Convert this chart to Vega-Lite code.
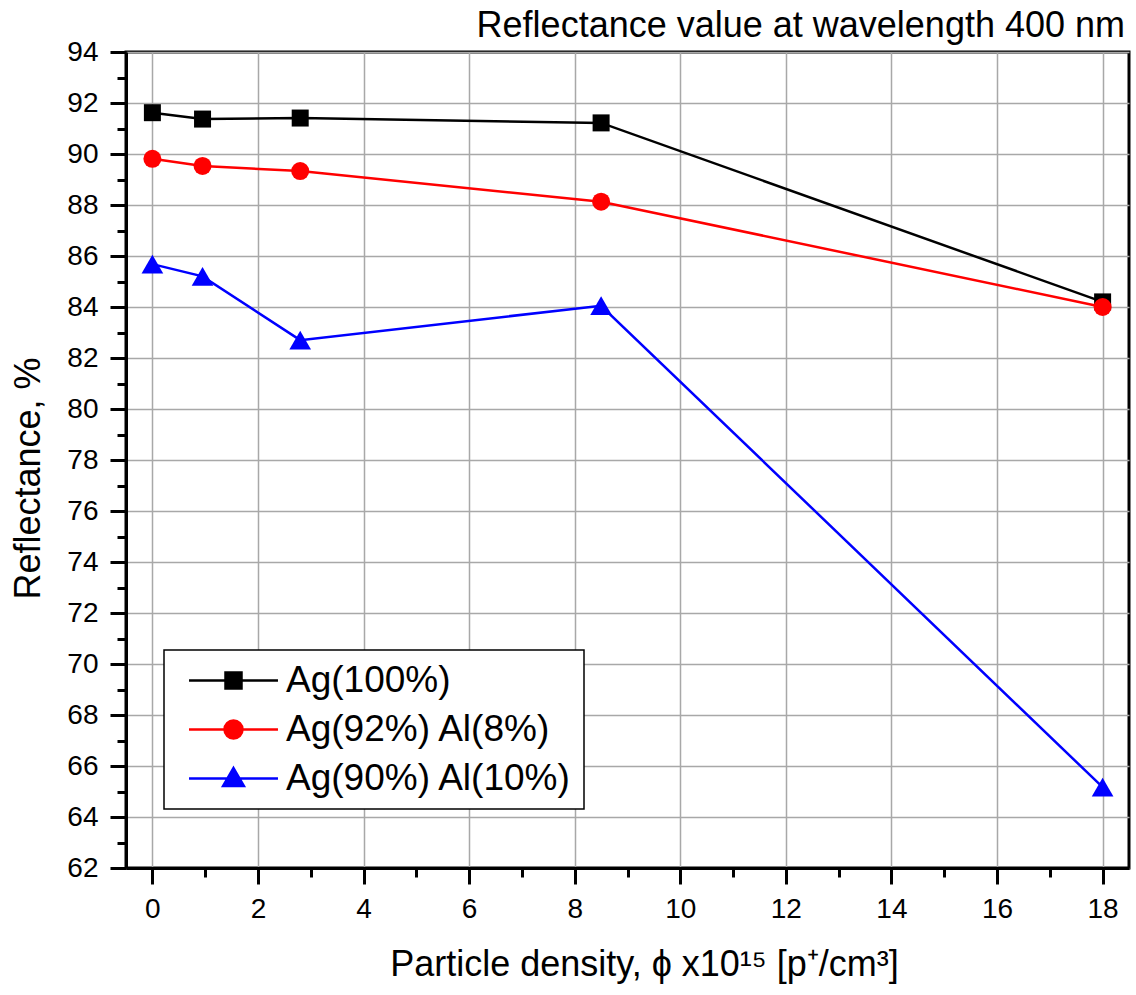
{
  "$schema": "https://vega.github.io/schema/vega-lite/v6.json",
  "width": 1003,
  "height": 816,
  "autosize": "none",
  "padding": {"left": 126, "top": 52, "right": 7, "bottom": 127},
  "background": "white",
  "title": {
    "text": "Reflectance value at wavelength 400 nm",
    "anchor": "end",
    "frame": "group",
    "fontSize": 36,
    "font": "Liberation Sans",
    "fontWeight": "normal",
    "color": "black",
    "offset": 9,
    "dy": 16,
    "dx": -4
  },
  "config": {
    "view": {"stroke": "black", "strokeWidth": 3},
    "axis": {
      "domainColor": "black",
      "domainWidth": 3,
      "tickColor": "black",
      "tickWidth": 3,
      "gridColor": "#a8a8a8",
      "gridWidth": 1.5,
      "labelFont": "Liberation Sans",
      "labelFontSize": 28,
      "labelColor": "black",
      "titleFont": "Liberation Sans",
      "titleFontSize": 36,
      "titleFontWeight": "normal",
      "titleColor": "black",
      "labelOverlap": false,
      "labelFlush": false
    },
    "legend": {
      "strokeColor": "black",
      "strokeWidth": 1.5,
      "fillColor": "white",
      "padding": 12
    }
  },
  "data": {
    "values": [
      {"series": "Ag(100%)", "x": 0, "y": 91.62},
      {"series": "Ag(100%)", "x": 0.95, "y": 91.37},
      {"series": "Ag(100%)", "x": 2.8, "y": 91.41},
      {"series": "Ag(100%)", "x": 8.5, "y": 91.22},
      {"series": "Ag(100%)", "x": 18, "y": 84.2},
      {"series": "Ag(92%) Al(8%)", "x": 0, "y": 89.81},
      {"series": "Ag(92%) Al(8%)", "x": 0.95, "y": 89.53},
      {"series": "Ag(92%) Al(8%)", "x": 2.8, "y": 89.33},
      {"series": "Ag(92%) Al(8%)", "x": 8.5, "y": 88.13},
      {"series": "Ag(92%) Al(8%)", "x": 18, "y": 84.0},
      {"series": "Ag(90%) Al(10%)", "x": 0, "y": 85.68},
      {"series": "Ag(90%) Al(10%)", "x": 0.95, "y": 85.2},
      {"series": "Ag(90%) Al(10%)", "x": 2.8, "y": 82.7},
      {"series": "Ag(90%) Al(10%)", "x": 8.5, "y": 84.05},
      {"series": "Ag(90%) Al(10%)", "x": 18, "y": 65.17}
    ]
  },
  "encoding": {
    "x": {
      "field": "x",
      "type": "quantitative",
      "scale": {"domain": [-0.5, 18.5], "nice": false, "zero": false},
      "axis": {
        "title": "Particle density, ϕ x10¹⁵ [p⁺/cm³]",
        "values": [0,1,2,3,4,5,6,7,8,9,10,11,12,13,14,15,16,17,18],
        "labelExpr": "datum.value % 2 ? '' : datum.label",
        "tickSize": {"condition": {"test": "datum.value % 2 !== 0", "value": 9}, "value": 16},
        "gridOpacity": {"condition": {"test": "datum.value % 2 !== 0", "value": 0}, "value": 1},
        "labelFontSize": 28,
        "labelFont": "Liberation Sans",
        "labelPadding": 11,
        "titlePadding": 24,
        "titleX": 518
      }
    },
    "y": {
      "field": "y",
      "type": "quantitative",
      "scale": {"domain": [62, 94], "nice": false, "zero": false},
      "axis": {
        "title": "Reflectance, %",
        "values": [62,63,64,65,66,67,68,69,70,71,72,73,74,75,76,77,78,79,80,81,82,83,84,85,86,87,88,89,90,91,92,93,94],
        "labelExpr": "datum.value % 2 ? '' : datum.label",
        "tickSize": {"condition": {"test": "datum.value % 2 !== 0", "value": 9}, "value": 16},
        "gridOpacity": {"condition": {"test": "datum.value % 2 !== 0", "value": 0}, "value": 1},
        "labelFontSize": 28,
        "labelFont": "Liberation Sans",
        "labelPadding": 12,
        "titlePadding": 19,
        "titleY": 426
      }
    }
  },
  "layer": [
    {
      "mark": {"type": "line", "strokeWidth": 2.5},
      "encoding": {
        "color": {
          "field": "series",
          "type": "nominal",
          "scale": {"domain": ["Ag(100%)", "Ag(92%) Al(8%)", "Ag(90%) Al(10%)"], "range": ["#000000", "#ff0000", "#0000ff"]},
          "legend": null
        }
      }
    },
    {
      "mark": {"type": "point", "filled": true, "opacity": 1},
      "encoding": {
        "color": {
          "field": "series",
          "type": "nominal",
          "scale": {"domain": ["Ag(100%)", "Ag(92%) Al(8%)", "Ag(90%) Al(10%)"], "range": ["#000000", "#ff0000", "#0000ff"]},
          "legend": null
        },
        "shape": {
          "field": "series",
          "type": "nominal",
          "scale": {"domain": ["Ag(100%)", "Ag(92%) Al(8%)", "Ag(90%) Al(10%)"], "range": ["square", "circle", "triangle-up"]},
          "legend": null
        },
        "size": {
          "field": "series",
          "type": "nominal",
          "scale": {"type": "ordinal", "domain": ["Ag(100%)", "Ag(92%) Al(8%)", "Ag(90%) Al(10%)"], "range": [289, 324, 470]},
          "legend": null
        }
      }
    },
    {
      "transform": [{"filter": "datum.y > 1000"}],
      "mark": {"type": "point", "filled": true, "strokeWidth": 2.5, "opacity": 1},
      "encoding": {
        "fill": {
          "field": "series",
          "type": "nominal",
          "scale": {"domain": ["Ag(100%)", "Ag(92%) Al(8%)", "Ag(90%) Al(10%)"], "range": ["#000000", "#ff0000", "#0000ff"]},
          "legend": {"title": null, "orient": "none", "legendX": 38, "legendY": 598, "symbolSize": 256, "symbolStrokeWidth": 2.5, "symbolOpacity": 1, "symbolOffset": 39, "labelOffset": 34, "labelFontSize": 37, "labelFont": "Liberation Sans", "labelColor": "black", "labelLimit": 0, "rowPadding": 11}
        },
        "stroke": {
          "field": "series",
          "type": "nominal",
          "scale": {"domain": ["Ag(100%)", "Ag(92%) Al(8%)", "Ag(90%) Al(10%)"], "range": ["#000000", "#ff0000", "#0000ff"]},
          "legend": {"title": null, "orient": "none", "legendX": 38, "legendY": 598, "symbolSize": 256, "symbolStrokeWidth": 2.5, "symbolOpacity": 1, "symbolOffset": 39, "labelOffset": 34, "labelFontSize": 37, "labelFont": "Liberation Sans", "labelColor": "black", "labelLimit": 0, "rowPadding": 11}
        },
        "shape": {
          "field": "series",
          "type": "nominal",
          "scale": {"domain": ["Ag(100%)", "Ag(92%) Al(8%)", "Ag(90%) Al(10%)"], "range": ["M-5.56,0H5.56M-1,-1H1V1H-1Z", "M-5.56,0H5.56M-1.125,0A1.125,1.125,0,1,0,1.125,0A1.125,1.125,0,1,0,-1.125,0Z", "M-5.56,0H5.56M0,-1.3L1.3,0.95L-1.3,0.95Z"]},
          "legend": {"title": null, "orient": "none", "legendX": 38, "legendY": 598, "symbolSize": 256, "symbolStrokeWidth": 2.5, "symbolOpacity": 1, "symbolOffset": 39, "labelOffset": 34, "labelFontSize": 37, "labelFont": "Liberation Sans", "labelColor": "black", "labelLimit": 0, "rowPadding": 11}
        }
      }
    }
  ],
  "resolve": {
    "scale": {"shape": "independent", "fill": "independent", "stroke": "independent"},
    "legend": {"shape": "independent", "fill": "independent", "stroke": "independent"}
  }
}
